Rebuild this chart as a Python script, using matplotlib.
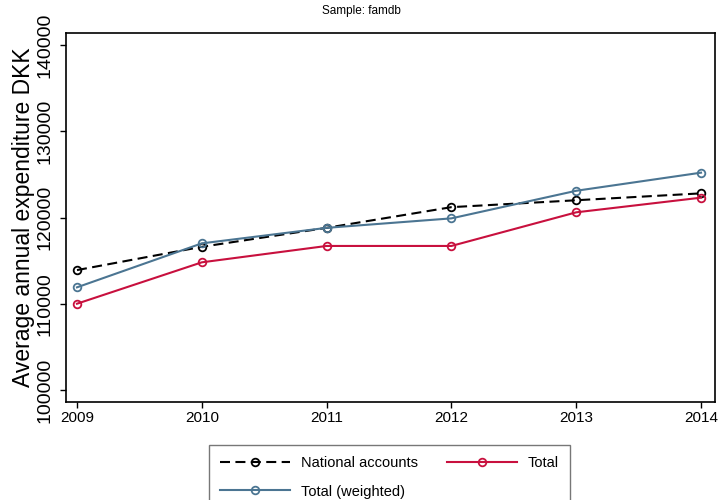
import matplotlib.pyplot as plt

plt.rcParams['font.family'] = ['Liberation Sans', 'DejaVu Sans']

years = [2009, 2010, 2011, 2012, 2013, 2014]
national = [113900, 116600, 118800, 121200, 122000, 122800]
total = [110000, 114800, 116700, 116700, 120600, 122300]
weighted = [111900, 117000, 118800, 119900, 123100, 125200]
yticks = [100000, 110000, 120000, 130000, 140000]

RED = '#c8103e'
BLUE = '#4b7592'

fig = plt.figure(figsize=(7.23, 5), dpi=100)
ax = fig.add_axes([66 / 723, 98 / 500, 649 / 723, 369 / 500])

mk = dict(marker='o', markersize=5.5, markerfacecolor='none', markeredgewidth=1.3)
l1, = ax.plot(years, national, color='black', linestyle=(0, (4.8, 2.6)), linewidth=1.5,
              label='National accounts', **mk)
l2, = ax.plot(years, total, color=RED, linewidth=1.5, label='Total', **mk)
l3, = ax.plot(years, weighted, color=BLUE, linewidth=1.5, label='Total (weighted)', **mk)

ax.set_xlim(2008.912, 2014.112)
ax.set_ylim(98600, 141400)
ax.set_xticks(years)
ax.set_xticklabels([str(y) for y in years], fontsize=11)
ax.set_yticks(yticks)
ax.set_yticklabels([str(v) for v in yticks], rotation=90, va='center', fontsize=14)
ax.tick_params(axis='x', length=4.3, width=1, pad=2.5)
ax.tick_params(axis='y', length=4.3, width=1, pad=5)
ax.set_ylabel('Average annual expenditure DKK', fontsize=16.5, labelpad=1)
for s in ax.spines.values():
    s.set_linewidth(1.2)

fig.text(0.5, 0.978, 'Sample: famdb', ha='center', va='center', fontsize=8.5)

# row-wise order like the original: National, Total / Total (weighted)
leg = fig.legend([l1, l3, l2], ['National accounts', 'Total (weighted)', 'Total'],
                 loc='upper left', bbox_to_anchor=(209 / 723, 1 - 445 / 500), ncol=2,
                 fontsize=10.5, frameon=True, fancybox=False,
                 edgecolor='#555555', handlelength=4.8, handletextpad=0.75,
                 columnspacing=2.0, borderpad=0.75, labelspacing=1.0, borderaxespad=0)
leg.get_frame().set_linewidth(1)

fig.savefig('out.png', dpi=100)
